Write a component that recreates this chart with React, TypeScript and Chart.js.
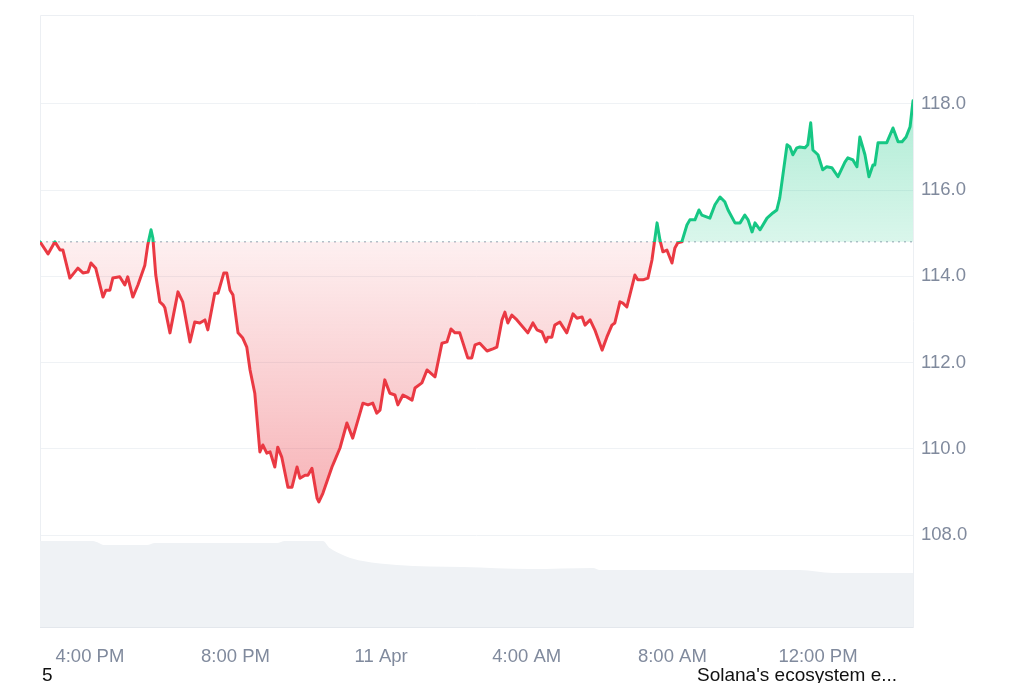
import React, { useEffect, useRef } from "react";
import { Chart, registerables } from "chart.js";

Chart.register(...registerables);

// Time in hours since 10 Apr 00:00 (16 = 4:00 PM, 24 = 11 Apr 00:00, 36 = 12:00 PM)
const HOURS = [
  14.63, 14.85, 15.04, 15.18, 15.26, 15.45, 15.67, 15.81, 15.95, 16.03,
  16.16, 16.36, 16.44, 16.55, 16.63, 16.82, 16.96, 17.04, 17.18, 17.32,
  17.51, 17.59, 17.68, 17.73, 17.81, 17.92, 18.01, 18.06, 18.2, 18.42,
  18.55, 18.75, 18.88, 19.02, 19.16, 19.24, 19.43, 19.52, 19.68, 19.76,
  19.85, 19.93, 20.07, 20.2, 20.31, 20.4, 20.53, 20.67, 20.75, 20.86,
  20.95, 21.08, 21.16, 21.27, 21.44, 21.55, 21.69, 21.77, 21.91, 21.99,
  22.1, 22.24, 22.29, 22.4, 22.65, 22.73, 22.87, 23.06, 23.22, 23.5,
  23.64, 23.77, 23.88, 23.97, 24.1, 24.24, 24.38, 24.46, 24.6, 24.71,
  24.85, 24.93, 25.12, 25.26, 25.48, 25.67, 25.81, 25.92, 26.03, 26.16,
  26.38, 26.49, 26.58, 26.71, 26.91, 27.07, 27.18, 27.32, 27.4, 27.48,
  27.59, 27.73, 28.03, 28.17, 28.28, 28.42, 28.53, 28.58, 28.69, 28.77,
  28.91, 29.1, 29.27, 29.38, 29.52, 29.6, 29.74, 29.87, 30.07, 30.2,
  30.34, 30.42, 30.56, 30.64, 30.75, 30.97, 31.05, 31.19, 31.33, 31.44,
  31.58, 31.66, 31.74, 31.85, 31.99, 32.07, 32.15, 32.26, 32.4, 32.48,
  32.62, 32.73, 32.81, 33.03, 33.17, 33.31, 33.44, 33.53, 33.72, 33.86,
  33.99, 34.08, 34.19, 34.27, 34.41, 34.6, 34.76, 34.87, 34.95, 35.15,
  35.23, 35.31, 35.42, 35.5, 35.64, 35.72, 35.8, 35.86, 36.0, 36.13,
  36.24, 36.38, 36.55, 36.74, 36.82, 36.96, 37.07, 37.15, 37.29, 37.4,
  37.51, 37.56, 37.65, 37.76, 37.89, 38.06, 38.2, 38.31, 38.42, 38.53,
  38.61,
];

const PRICES = [
  114.8, 114.52, 114.8, 114.61, 114.61, 113.96, 114.19, 114.08, 114.1, 114.31,
  114.19, 113.52, 113.68, 113.68, 113.96, 113.99, 113.8, 113.99, 113.52, 113.8,
  114.26, 114.73, 115.08, 114.89, 114.03, 113.41, 113.34, 113.27, 112.69, 113.64,
  113.41, 112.48, 112.94, 112.92, 112.99, 112.76, 113.61, 113.61, 114.08, 114.08,
  113.68, 113.57, 112.69, 112.57, 112.36, 111.83, 111.29, 109.93, 110.09, 109.9,
  109.93, 109.58, 110.04, 109.81, 109.11, 109.11, 109.58, 109.32, 109.39, 109.39,
  109.55, 108.86, 108.77, 108.97, 109.58, 109.74, 110.02, 110.6, 110.25, 111.06,
  111.02, 111.06, 110.83, 110.9, 111.6, 111.29, 111.25, 111.02, 111.25, 111.2,
  111.13, 111.41, 111.53, 111.83, 111.67, 112.45, 112.48, 112.78, 112.69, 112.69,
  112.11, 112.11, 112.41, 112.45, 112.27, 112.32, 112.36, 112.99, 113.17, 112.92,
  113.1, 112.99, 112.69, 112.92, 112.76, 112.71, 112.48, 112.59, 112.59, 112.87,
  112.94, 112.69, 113.13, 113.03, 113.06, 112.87, 112.99, 112.76, 112.29, 112.59,
  112.87, 112.92, 113.41, 113.38, 113.29, 114.03, 113.92, 113.92, 113.96, 114.38,
  115.24, 114.84, 114.57, 114.61, 114.31, 114.66, 114.78, 114.8, 115.19, 115.31,
  115.31, 115.54, 115.42, 115.35, 115.66, 115.84, 115.73, 115.54, 115.24, 115.24,
  115.42, 115.31, 115.03, 115.24, 115.08, 115.35, 115.47, 115.54, 115.82, 117.05,
  117.0, 116.82, 116.98, 117.0, 116.98, 117.05, 117.56, 116.93, 116.82, 116.47,
  116.54, 116.52, 116.31, 116.65, 116.75, 116.7, 116.54, 117.23, 116.82, 116.31,
  116.58, 116.58, 117.1, 117.1, 117.1, 117.44, 117.12, 117.12, 117.23, 117.47,
  118.07,
];

// Trading volume (billions USD, estimated)
const VOL_HOURS = [
  14.63, 16.08, 16.41, 17.57, 17.79, 21.14, 21.36, 22.4, 22.59, 23.01,
  23.5, 24.43, 26.25, 28.09, 29.82, 30.01, 35.5, 36.41, 38.61,
];
const VOLUMES = [
  2.87, 2.87, 2.73, 2.73, 2.8, 2.8, 2.87, 2.87, 2.63, 2.37,
  2.2, 2.07, 2.0, 1.93, 1.97, 1.9, 1.9, 1.8, 1.8,
];

const BASELINE = 114.8;
const PRICE_TICKS = [108, 110, 112, 114, 116, 118];
const TIME_TICKS = [16, 20, 24, 28, 32, 36];
const TIME_LABELS = ["4:00 PM", "8:00 PM", "11 Apr", "4:00 AM", "8:00 AM", "12:00 PM"];

const GREEN = "#16c784";
const RED = "#ea3943";
const FONT = '"Liberation Sans", Arial, Helvetica, sans-serif';
const TICK_COLOR = "#808a9d";
const GRID_COLOR = "#eff2f5";

function clamp01(v: number) {
  return Math.max(0, Math.min(1, v));
}

function lineGradient(chart: any) {
  const { chartArea, scales } = chart;
  if (!chartArea) return RED;
  const h = chartArea.bottom - chartArea.top;
  const t = clamp01((scales.y.getPixelForValue(BASELINE) - chartArea.top) / h);
  const g = chart.ctx.createLinearGradient(0, chartArea.top, 0, chartArea.bottom);
  g.addColorStop(0, GREEN);
  g.addColorStop(t, GREEN);
  g.addColorStop(t, RED);
  g.addColorStop(1, RED);
  return g;
}

function fillGradient(chart: any) {
  const { chartArea, scales } = chart;
  if (!chartArea) return "rgba(234,57,67,0.15)";
  const h = chartArea.bottom - chartArea.top;
  const off = (v: number) => clamp01((scales.y.getPixelForValue(v) - chartArea.top) / h);
  const tTop = off(118);
  const tBase = off(BASELINE);
  const tBot = off(108.8);
  const g = chart.ctx.createLinearGradient(0, chartArea.top, 0, chartArea.bottom);
  g.addColorStop(0, "rgba(22,199,132,0.34)");
  g.addColorStop(tTop, "rgba(22,199,132,0.34)");
  g.addColorStop(tBase, "rgba(22,199,132,0.16)");
  g.addColorStop(tBase, "rgba(234,57,67,0.08)");
  g.addColorStop(tBot, "rgba(234,57,67,0.38)");
  g.addColorStop(1, "rgba(234,57,67,0.38)");
  return g;
}

const framePlugin = {
  id: "frame",
  beforeDatasetsDraw(chart: any) {
    const { ctx, chartArea: a } = chart;
    ctx.save();
    ctx.strokeStyle = "#eceff3";
    ctx.lineWidth = 1;
    ctx.beginPath();
    ctx.moveTo(a.left + 0.5, a.bottom);
    ctx.lineTo(a.left + 0.5, a.top + 0.5);
    ctx.lineTo(a.right, a.top + 0.5);
    ctx.stroke();
    ctx.restore();
  },
};

export default function App() {
  const ref = useRef<HTMLCanvasElement>(null);

  useEffect(() => {
    if (!ref.current) return;
    Chart.defaults.font.family = FONT;
    const first = HOURS[0];
    const last = HOURS[HOURS.length - 1];
    const chart = new Chart(ref.current, {
      type: "line",
      data: {
        datasets: [
          {
            label: "Price",
            data: HOURS.map((h, i) => ({ x: h, y: PRICES[i] })),
            yAxisID: "y",
            borderWidth: 3,
            pointRadius: 0,
            tension: 0,
            borderJoinStyle: "round",
            borderCapStyle: "round",
            borderColor: (c: any) => lineGradient(c.chart),
            backgroundColor: (c: any) => fillGradient(c.chart),
            fill: { target: { value: BASELINE } },
            order: 0,
          } as any,
          {
            label: "Open",
            data: [
              { x: first, y: BASELINE },
              { x: last, y: BASELINE },
            ],
            yAxisID: "y",
            borderColor: "#98a1b3",
            borderWidth: 1,
            borderDash: [2, 4],
            pointRadius: 0,
            fill: false,
            order: 1,
          },
          {
            label: "Volume",
            data: VOL_HOURS.map((h, i) => ({ x: h, y: VOLUMES[i] })),
            yAxisID: "yv",
            borderWidth: 0,
            borderColor: "rgba(0,0,0,0)",
            backgroundColor: "#eff2f5",
            pointRadius: 0,
            cubicInterpolationMode: "monotone",
            fill: "origin",
            order: 2,
          } as any,
        ],
      },
      options: {
        animation: false,
        responsive: false,
        maintainAspectRatio: false,
        layout: { padding: { left: 40, top: 15, right: 0, bottom: 0 } },
        plugins: {
          legend: { display: false },
          tooltip: { enabled: false },
        },
        scales: {
          x: {
            type: "linear",
            min: first,
            max: last,
            grid: { display: false, drawTicks: false },
            border: { display: true, color: "#e3e7ec", dash: [2, 2] },
            afterBuildTicks: (s: any) => {
              s.ticks = TIME_TICKS.map((v) => ({ value: v }));
            },
            afterFit: (s: any) => {
              s.height = 56;
              s.paddingLeft = 0;
              s.paddingRight = 0;
            },
            ticks: {
              autoSkip: false,
              maxRotation: 0,
              padding: 19,
              color: TICK_COLOR,
              font: { size: 18.5, family: FONT },
              callback: (_v: any, i: number) => TIME_LABELS[i],
            },
          },
          y: {
            position: "right",
            min: 105.87,
            max: 120.06,
            grid: { color: GRID_COLOR, drawTicks: false },
            border: { display: true, color: "#eceff3" },
            afterBuildTicks: (s: any) => {
              s.ticks = PRICE_TICKS.map((v) => ({ value: v }));
            },
            afterFit: (s: any) => {
              s.width = 111;
              s.paddingTop = 0;
              s.paddingBottom = 0;
            },
            ticks: {
              padding: 8,
              color: TICK_COLOR,
              font: { size: 18.5, family: FONT },
              callback: (v: any) => Number(v).toFixed(1),
            },
          },
          yv: {
            display: false,
            min: 0,
            max: 20.4,
          },
        },
      } as any,
      plugins: [framePlugin],
    });
    return () => chart.destroy();
  }, []);

  const textStyle: React.CSSProperties = {
    position: "absolute",
    top: 665,
    fontFamily: FONT,
    fontSize: 19,
    lineHeight: "19px",
    color: "#111",
    whiteSpace: "nowrap",
  };

  return (
    <div
      style={{
        position: "fixed",
        left: 0,
        top: 0,
        width: 1024,
        height: 683,
        background: "#fff",
        overflow: "hidden",
      }}
    >
      <canvas ref={ref} width={1024} height={683} style={{ display: "block" }} />
      <div style={{ ...textStyle, left: 42 }}>5</div>
      <div style={{ ...textStyle, left: 697 }}>Solana's ecosystem e...</div>
    </div>
  );
}
